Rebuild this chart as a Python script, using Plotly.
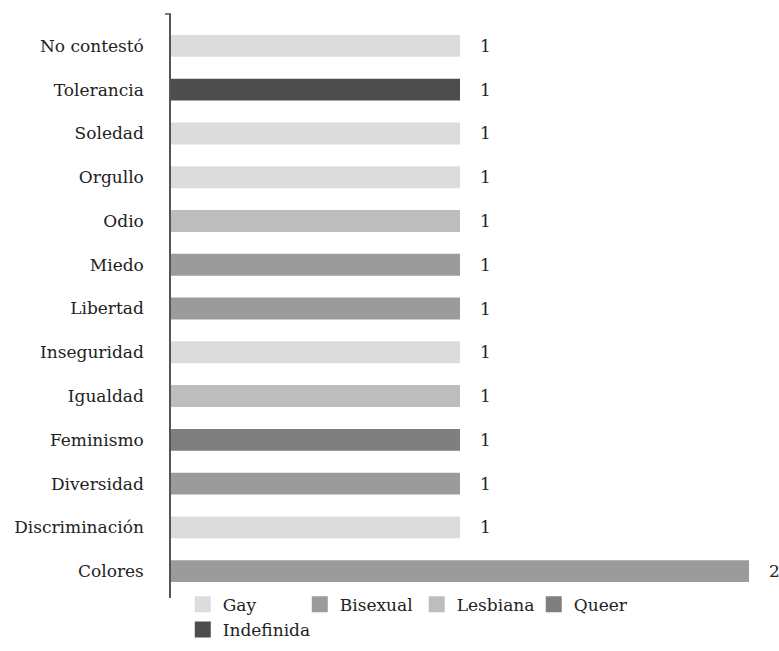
import plotly.graph_objects as go

# Words and the group each answer came from (bottom to top)
categories = ["Colores", "Discriminación", "Diversidad", "Feminismo", "Igualdad",
              "Inseguridad", "Libertad", "Miedo", "Odio", "Orgullo", "Soledad",
              "Tolerancia", "No contestó"]
values = [2, 1, 1, 1, 1, 1, 1, 1, 1, 1, 1, 1, 1]
groups = ["Bisexual", "Gay", "Bisexual", "Queer", "Lesbiana",
          "Gay", "Bisexual", "Bisexual", "Lesbiana", "Gay", "Gay",
          "Indefinida", "Gay"]

series_names = ["Gay", "Bisexual", "Lesbiana", "Queer", "Indefinida"]
series_colors = ["#dcdcdc", "#9b9b9b", "#bdbdbd", "#7f7f7f", "#4d4d4d"]

FONT = "DejaVu Serif"
FS = 17
TXT = "#222222"

W, H = 779, 651
M_L, M_R, M_T, M_B = 171, 30, 14, 53

fig = go.Figure()
for name, color in zip(series_names, series_colors):
    ys = [c for c, g in zip(categories, groups) if g == name]
    xs = [v for v, g in zip(values, groups) if g == name]
    fig.add_trace(go.Bar(
        x=xs, y=ys, orientation="h", name=name, showlegend=False,
        marker=dict(color=color, line=dict(width=0)),
        hoverinfo="x+y",
    ))
    # legend entry with a larger square swatch
    fig.add_trace(go.Scatter(
        x=[None], y=[None], mode="markers", name=name,
        marker=dict(symbol="square", size=16, color=color),
    ))

# value labels to the right of each bar
for c, v in zip(categories, values):
    fig.add_annotation(x=v, y=c, text=str(v), showarrow=False,
                       xanchor="left", xshift=18, yshift=0,
                       font=dict(family=FONT, size=FS, color=TXT))

plot_w = W - M_L - M_R
# small tick at the top end of the category axis
fig.add_shape(type="line", xref="paper", yref="paper",
              x0=-6 / plot_w, x1=0, y0=1, y1=1,
              line=dict(color="#555555", width=1.5))

fig.update_layout(
    width=W, height=H,
    margin=dict(l=M_L, r=M_R, t=M_T, b=M_B, pad=0, autoexpand=False),
    paper_bgcolor="white", plot_bgcolor="white",
    font=dict(family=FONT, size=FS, color=TXT),
    barmode="relative", bargap=0.5,
    xaxis=dict(range=[0, 2], visible=False, fixedrange=True),
    yaxis=dict(categoryorder="array", categoryarray=categories,
               range=[-0.614, 12.729], showline=True, linecolor="#555555",
               linewidth=1.5, ticks="", showgrid=False, zeroline=False,
               ticklabelstandoff=22,
               tickfont=dict(family=FONT, size=FS, color=TXT)),
    showlegend=True,
    legend=dict(orientation="h", x=0.535, xanchor="center",
                xref="container", y=0.005, yanchor="bottom", yref="container",
                font=dict(family=FONT, size=FS, color=TXT),
                traceorder="normal", itemsizing="trace",
                entrywidth=72, entrywidthmode="pixels"),
)

fig.write_html("out.html")
